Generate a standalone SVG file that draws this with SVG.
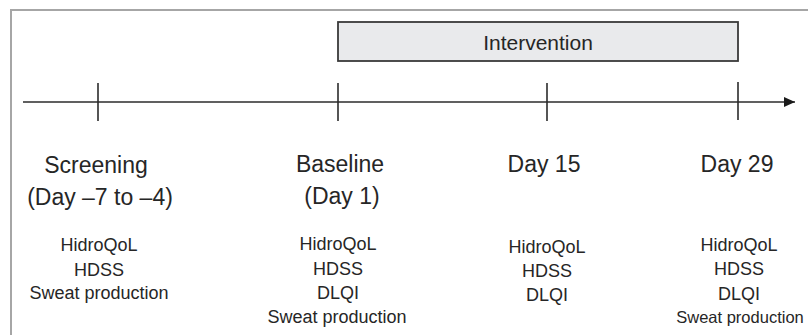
<svg xmlns="http://www.w3.org/2000/svg" width="808" height="335" viewBox="0 0 808 335">
<defs>
<style>
.hd{font-family:"Liberation Sans",Arial,sans-serif;font-size:23px;fill:#262626;text-anchor:middle}
.sm{font-family:"Liberation Sans",Arial,sans-serif;font-size:18px;fill:#262626;text-anchor:middle}
.ln{stroke:#2b2b2b;stroke-width:1.6;fill:none}
</style>
<marker id="ah" markerWidth="11" markerHeight="11" refX="11" refY="5.5" orient="auto" markerUnits="userSpaceOnUse">
<path d="M0,0.5 L11,5.5 L0,10.5 Z" fill="#1a1a1a"/>
</marker>
</defs>
<rect x="0" y="0" width="808" height="335" fill="#ffffff"/>
<rect x="11" y="10" width="820" height="340" fill="none" stroke="#a6a6a6" stroke-width="2"/>
<g id="intervention">
<rect x="338" y="22" width="400" height="39" fill="#e9eaec" stroke="#3a3a3a" stroke-width="1.8"/>
<text x="538" y="50" font-family="Liberation Sans, Arial, sans-serif" font-size="21" fill="#262626" text-anchor="middle">Intervention</text>
</g>
<g id="connectors">
<line class="ln" x1="23" y1="102" x2="795" y2="102" marker-end="url(#ah)"/>
<line class="ln" x1="98" y1="83" x2="98" y2="121"/>
<line class="ln" x1="338" y1="83" x2="338" y2="121"/>
<line class="ln" x1="547" y1="83" x2="547" y2="121"/>
<line class="ln" x1="738" y1="82" x2="738" y2="120"/>
</g>
<g id="screening">
<text class="hd" x="96" y="173">Screening</text>
<text class="hd" x="100" y="205">(Day –7 to –4)</text>
<text class="sm" x="99" y="251">HidroQoL</text>
<text class="sm" x="99" y="276">HDSS</text>
<text class="sm" x="99" y="299">Sweat production</text>
</g>
<g id="baseline">
<text class="hd" x="340" y="172">Baseline</text>
<text class="hd" x="342" y="204">(Day 1)</text>
<text class="sm" x="338" y="250">HidroQoL</text>
<text class="sm" x="338" y="275">HDSS</text>
<text class="sm" x="338" y="299">DLQI</text>
<text class="sm" x="337" y="323">Sweat production</text>
</g>
<g id="day15">
<text class="hd" x="544" y="172">Day 15</text>
<text class="sm" x="547" y="253">HidroQoL</text>
<text class="sm" x="547" y="277">HDSS</text>
<text class="sm" x="547" y="301">DLQI</text>
</g>
<g id="day29">
<text class="hd" x="737" y="172">Day 29</text>
<text class="sm" x="739" y="251">HidroQoL</text>
<text class="sm" x="739" y="275">HDSS</text>
<text class="sm" x="739" y="300">DLQI</text>
<text class="sm" x="740" y="323" style="font-size:16.5px">Sweat production</text>
</g>
</svg>
